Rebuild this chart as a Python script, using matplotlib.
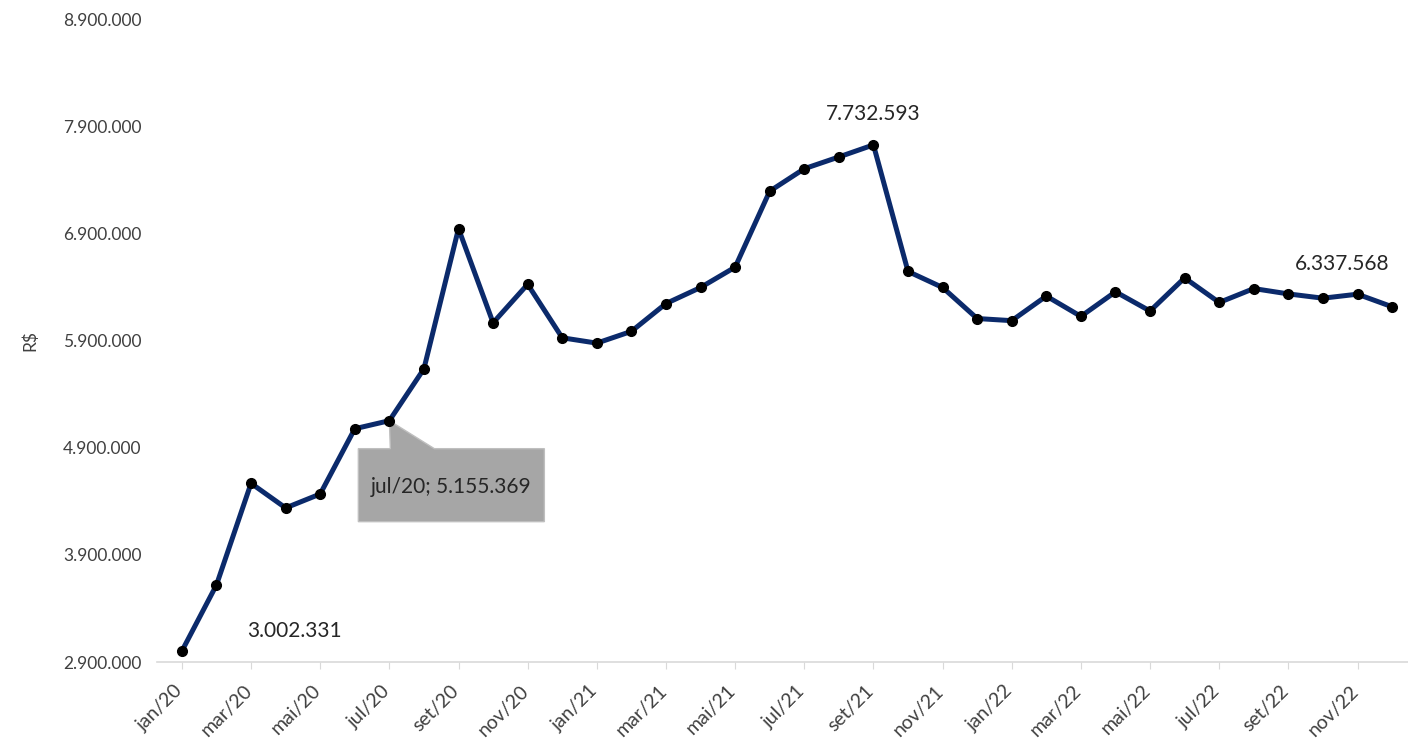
import matplotlib
matplotlib.use('Agg')
import matplotlib.pyplot as plt
import matplotlib.transforms as mtransforms
from matplotlib.patches import Polygon

# Dados mensais (R$)
meses = ['jan/20', 'fev/20', 'mar/20', 'abr/20', 'mai/20', 'jun/20', 'jul/20', 'ago/20',
         'set/20', 'out/20', 'nov/20', 'dez/20', 'jan/21', 'fev/21', 'mar/21', 'abr/21',
         'mai/21', 'jun/21', 'jul/21', 'ago/21', 'set/21', 'out/21', 'nov/21', 'dez/21',
         'jan/22', 'fev/22', 'mar/22', 'abr/22', 'mai/22', 'jun/22', 'jul/22', 'ago/22',
         'set/22', 'out/22', 'nov/22', 'dez/22']
valores = [3002331, 3620000, 4570000, 4340000, 4470000, 5080000, 5155369, 5640000,
           6950000, 6070000, 6430000, 5930000, 5880000, 5990000, 6250000, 6400000,
           6590000, 7300000, 7510000, 7620000, 7732593, 6550000, 6400000, 6110000,
           6090000, 6320000, 6130000, 6360000, 6180000, 6490000, 6260000, 6390000,
           6340000, 6300000, 6337568, 6220000]
yticks = [2900000, 3900000, 4900000, 5900000, 6900000, 7900000, 8900000]


def fmt(v):
    return f'{v:,.0f}'.replace(',', '.')


plt.rcParams['font.family'] = ['Lato', 'DejaVu Sans']

fig = plt.figure(figsize=(14.08, 7.46), dpi=100)
ax = fig.add_axes([0.1115, 0.1126, 0.8885, 0.8606])

x = list(range(len(meses)))
ax.plot(x, valores, color='#0b2a6b', lw=3.6, marker='o', ms=7,
        markerfacecolor='black', markeredgecolor='black', zorder=3)

ax.set_xlim(-0.72, 35.46)
ax.set_ylim(yticks[0], yticks[-1])
ax.set_yticks(yticks)
ax.set_yticklabels([fmt(v) for v in yticks], fontsize=12.5, color='#404040')
ax.set_xticks(x[::2])
ax.set_xticklabels([])
ax.tick_params(axis='y', length=0, pad=11)
ax.tick_params(axis='x', length=5, color='#d9d9d9')

# rótulos do eixo x, um pouco à esquerda de cada marca
desloc = mtransforms.ScaledTranslation(-8 / 100, -20 / 100, fig.dpi_scale_trans)
for i in x[::2]:
    ax.text(i, 0, meses[i], transform=ax.get_xaxis_transform() + desloc,
            rotation=45, ha='right', va='top', rotation_mode='anchor',
            fontsize=14, color='#404040')

for s in ['top', 'right', 'left']:
    ax.spines[s].set_visible(False)
ax.spines['bottom'].set_color('#d9d9d9')
ax.spines['bottom'].set_linewidth(1.2)
ax.set_ylabel('R$', fontsize=12.5, color='#404040', labelpad=18)

# Rótulos de dados
ax.annotate(fmt(valores[0]), (0, valores[0]), xytext=(113, 20), textcoords='offset pixels',
            ha='center', va='center', fontsize=15, color='#262626')
ax.annotate(fmt(valores[20]), (20, valores[20]), xytext=(0, 31), textcoords='offset pixels',
            ha='center', va='center', fontsize=15, color='#262626')
ax.annotate(fmt(valores[34]), (34, valores[34]), xytext=(-15, 30), textcoords='offset pixels',
            ha='center', va='center', fontsize=15, color='#262626')

# Caixa de chamada para jul/20
fig.canvas.draw()
px, py = ax.transData.transform((6, valores[6]))
verts = [(-31, -28), (1, -28), (0, 0), (45, -28), (155, -28), (155, -101), (-31, -101)]
tr = mtransforms.Affine2D().translate(px, py)
ax.add_patch(Polygon(verts, closed=True, transform=tr, facecolor='#a6a6a6',
                     edgecolor='#bfbfbf', lw=1, zorder=2, clip_on=False))
ax.annotate(f'{meses[6]}; {fmt(valores[6])}', (6, valores[6]), xytext=(62, -66),
            textcoords='offset pixels', ha='center', va='center', fontsize=15,
            color='#262626', zorder=4)

fig.savefig('out.png', dpi=100)
